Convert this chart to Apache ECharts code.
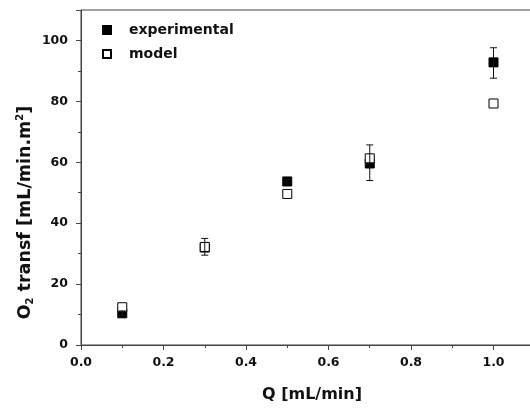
<!DOCTYPE html>
<html><head><meta charset="utf-8">
<script src="https://cdn.jsdelivr.net/npm/echarts@6/dist/echarts.min.js"></script>
<style>html,body{margin:0;padding:0;background:#fff}#c{width:530px;height:409px}</style>
</head><body><div id="c"></div>
<script>
var qValues = [0.1, 0.3, 0.5, 0.7, 1.0];
var experimental = [10.4, 32.0, 53.7, 59.6, 92.8];
var expLow = [9.6, 29.5, 53.2, 54.0, 87.6];
var expHigh = [11.2, 35.0, 54.2, 65.7, 97.6];
var model = [12.4, 32.2, 49.6, 61.3, 79.3];
var xTicks = [0.0, 0.2, 0.4, 0.6, 0.8, 1.0];
var yTicks = [0, 20, 40, 60, 80, 100];

var chart = echarts.init(document.getElementById('c'));
var font = 'DejaVu Sans, Liberation Sans, Arial, sans-serif';
var axisCol = '#444';
function pairs(ys){ return qValues.map(function(q,i){ return [q, ys[i]]; }); }
var errData = qValues.map(function(q,i){ return [q, expLow[i], expHigh[i]]; });

chart.setOption({
  backgroundColor: '#fff',
  animation: false,
  grid: {left: 81, top: 10, width: 462, height: 335, show: true, borderColor: axisCol, borderWidth: 1,
         backgroundColor: 'transparent', containLabel: false, outerBoundsMode: 'none'},
  legend: {
    left: 97, top: 17, orient: 'vertical', itemGap: 8,
    itemWidth: 8, itemHeight: 8,
    data: ['experimental', 'model'],
    textStyle: {fontFamily: font, fontWeight: 'bold', fontSize: 14, lineHeight: 16, color: '#111', padding: [0, 0, 0, 13]}
  },
  xAxis: {
    type: 'value', min: 0, max: 1.12, interval: 0.2,
    name: 'Q [mL/min]', nameLocation: 'middle', nameGap: 42, nameMoveOverlap: false,
    nameTextStyle: {fontFamily: font, fontWeight: 'bold', fontSize: 16, color: '#111'},
    axisLine: {show: true, onZero: false, lineStyle: {color: axisCol, width: 1}},
    axisTick: {show: true, inside: false, length: 5, lineStyle: {color: axisCol}},
    minorTick: {show: true, splitNumber: 2, length: 3, lineStyle: {color: axisCol}},
    splitLine: {show: false},
    axisLabel: {fontFamily: font, fontWeight: 'bold', fontSize: 12.5, color: '#111', margin: 11,
      formatter: function(v){ return xTicks.indexOf(Math.round(v*10)/10) >= 0 ? v.toFixed(1) : ''; }}
  },
  yAxis: {
    type: 'value', min: 0, max: 110, interval: 20,
    name: '{t|O}{sub|2}{t| transf [mL/min.m}{sup|2}{t|]}', nameLocation: 'middle', nameGap: 46, nameMoveOverlap: false,
    nameTextStyle: {fontFamily: font, fontWeight: 'bold', fontSize: 17.5, color: '#111', padding: [0, 70, 0, 0],
      rich: {
        t: {fontFamily: font, fontWeight: 'bold', fontSize: 17.5, color: '#111', lineHeight: 20},
        sub: {fontFamily: font, fontWeight: 'bold', fontSize: 10, color: '#111', verticalAlign: 'bottom', lineHeight: 20, padding: [7, 0, 0, 0]},
        sup: {fontFamily: font, fontWeight: 'bold', fontSize: 10, color: '#111', verticalAlign: 'top', lineHeight: 20, padding: [0, 0, 7, 0]}
      }},
    axisLine: {show: true, onZero: false, lineStyle: {color: axisCol, width: 1}},
    axisTick: {show: true, inside: false, length: 5, lineStyle: {color: axisCol}},
    minorTick: {show: true, splitNumber: 2, length: 3, lineStyle: {color: axisCol}},
    splitLine: {show: false},
    axisLabel: {fontFamily: font, fontWeight: 'bold', fontSize: 12.5, color: '#111', margin: 13,
      formatter: function(v){ return yTicks.indexOf(v) >= 0 ? String(v) : ''; }}
  },
  series: [
    {
      name: 'experimental', type: 'scatter', symbol: 'rect', symbolSize: 9, z: 2,
      itemStyle: {color: '#000', borderColor: '#000', borderWidth: 1, opacity: 1},
      data: pairs(experimental)
    },
    {
      name: 'model', type: 'scatter', symbol: 'rect', symbolSize: 9, z: 3,
      itemStyle: {color: '#fff', borderColor: '#000', borderWidth: 1, opacity: 1},
      data: pairs(model)
    },
    {
      name: 'err', type: 'custom', z: 4, silent: true,
      data: errData,
      renderItem: function(params, api){
        var lo = api.coord([api.value(0), api.value(1)]);
        var hi = api.coord([api.value(0), api.value(2)]);
        var hw = 3.5;
        var st = {stroke: '#111', lineWidth: 1};
        return {type: 'group', children: [
          {type: 'line', shape: {x1: lo[0], y1: lo[1], x2: hi[0], y2: hi[1]}, style: st},
          {type: 'line', shape: {x1: lo[0]-hw, y1: lo[1], x2: lo[0]+hw, y2: lo[1]}, style: st},
          {type: 'line', shape: {x1: hi[0]-hw, y1: hi[1], x2: hi[0]+hw, y2: hi[1]}, style: st}
        ]};
      }
    }
  ]
});
</script></body></html>
